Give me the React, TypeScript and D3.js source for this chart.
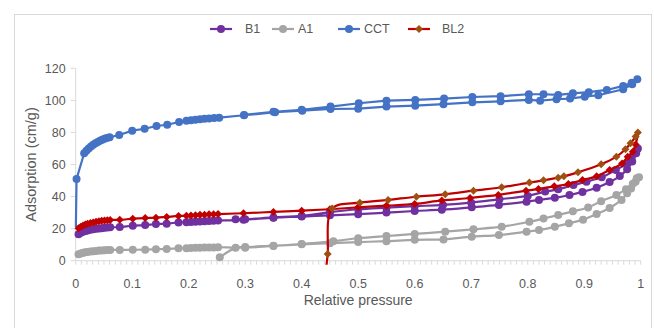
import * as d3 from "d3";

type Pt = [number, number];

// x = relative pressure, y = adsorbed amount
const X_TICKS = [0, 0.1, 0.2, 0.3, 0.4, 0.5, 0.6, 0.7, 0.8, 0.9, 1];
const Y_TICKS = [0, 20, 40, 60, 80, 100, 120];

const B1_ADS: Pt[] = [
  [0.005, 16.5], [0.009, 17.4], [0.013, 18.0], [0.017, 18.5], [0.021, 18.9], [0.026, 19.3],
  [0.031, 19.6], [0.036, 19.9], [0.041, 20.1], [0.046, 20.3], [0.051, 20.5], [0.056, 20.7],
  [0.061, 20.8], [0.078, 21.0], [0.101, 21.8], [0.123, 22.2], [0.142, 22.9], [0.161, 23.1],
  [0.182, 23.9], [0.196, 24.0], [0.204, 24.2], [0.212, 24.3], [0.22, 24.5], [0.228, 24.6],
  [0.236, 24.7], [0.244, 24.9], [0.252, 25.0], [0.297, 25.5], [0.35, 26.8], [0.4, 27.5],
  [0.45, 28.3], [0.5, 29.0], [0.55, 30.0], [0.6, 31.0], [0.648, 31.8], [0.701, 33.3],
  [0.749, 34.8], [0.798, 36.8], [0.82, 37.9], [0.848, 39.2], [0.874, 41.0], [0.897, 42.9],
  [0.922, 45.5], [0.945, 49.1], [0.963, 52.8], [0.976, 57.0], [0.985, 61.8], [0.992, 67.0],
];
const B1_DES: Pt[] = [
  [0.995, 70.0], [0.993, 69.1], [0.984, 64.5], [0.974, 60.4], [0.956, 56.6], [0.931, 52.0],
  [0.904, 49.3], [0.881, 47.2], [0.854, 44.5], [0.831, 43.1], [0.8, 40.4], [0.75, 38.3],
  [0.7, 36.2], [0.65, 34.8], [0.6, 34.0], [0.55, 33.1], [0.5, 32.1], [0.45, 30.3],
  [0.4, 27.9], [0.35, 27.0], [0.3, 25.9], [0.283, 25.8],
];

const A1_ADS: Pt[] = [
  [0.005, 4.0], [0.009, 4.5], [0.013, 4.9], [0.017, 5.2], [0.021, 5.5], [0.026, 5.7],
  [0.031, 5.9], [0.036, 6.1], [0.041, 6.3], [0.046, 6.4], [0.051, 6.5], [0.056, 6.6],
  [0.061, 6.7], [0.078, 6.7], [0.101, 6.8], [0.123, 6.9], [0.142, 7.1], [0.161, 7.3],
  [0.182, 7.7], [0.196, 7.8], [0.204, 7.9], [0.212, 8.0], [0.22, 8.1], [0.228, 8.2],
  [0.236, 8.3], [0.244, 8.3], [0.252, 8.4], [0.3, 8.1], [0.35, 9.2], [0.4, 10.2],
  [0.45, 10.9], [0.5, 11.6], [0.55, 12.2], [0.6, 13.0], [0.651, 13.3], [0.701, 15.0],
  [0.749, 16.0], [0.798, 18.1], [0.82, 19.1], [0.848, 21.2], [0.873, 23.3], [0.898, 25.6],
  [0.922, 29.1], [0.945, 32.9], [0.966, 37.9], [0.976, 42.0], [0.983, 45.1], [0.991, 49.3],
];
const A1_DES: Pt[] = [
  [0.997, 52.0], [0.993, 51.4], [0.986, 48.0], [0.974, 44.6], [0.957, 41.0], [0.93, 37.1],
  [0.907, 33.2], [0.88, 30.8], [0.854, 28.5], [0.828, 26.3], [0.803, 24.3], [0.754, 21.2],
  [0.704, 19.6], [0.654, 18.1], [0.6, 16.7], [0.55, 15.4], [0.5, 14.0], [0.456, 12.2],
  [0.4, 10.4], [0.35, 9.4], [0.3, 8.5], [0.283, 8.0], [0.255, 2.1],
];

const CCT_ADS: Pt[] = [
  [0.0003, 21], [0.0015, 51], [0.015, 67], [0.019, 68.5], [0.023, 70], [0.027, 71.3],
  [0.031, 72.3], [0.035, 73.2], [0.039, 74], [0.043, 74.8], [0.047, 75.5], [0.051, 76.1],
  [0.055, 76.6], [0.06, 77], [0.077, 78.4], [0.1, 81.1], [0.122, 82.3], [0.143, 84.0],
  [0.162, 84.8], [0.183, 86.5], [0.196, 87.3], [0.204, 87.6], [0.212, 87.9], [0.22, 88.2],
  [0.228, 88.5], [0.236, 88.7], [0.245, 89.0], [0.254, 89.2], [0.298, 90.7], [0.353, 92.6],
  [0.401, 93.6], [0.451, 94.6], [0.5, 94.8], [0.55, 96.1], [0.601, 96.7], [0.651, 97.6],
  [0.702, 98.8], [0.752, 99.4], [0.802, 100.3], [0.822, 99.8], [0.851, 100.7], [0.875, 101.1],
  [0.901, 102.3], [0.925, 103.2], [0.969, 106.9], [0.985, 110.0],
];
const CCT_DES: Pt[] = [
  [0.994, 113.2], [0.984, 111.0], [0.969, 109.0], [0.94, 106.5], [0.908, 105.1], [0.88, 104.4],
  [0.854, 103.4], [0.828, 103.8], [0.802, 103.8], [0.752, 102.6], [0.702, 102.1], [0.652, 101.1],
  [0.601, 100.3], [0.55, 99.8], [0.501, 98.2], [0.451, 96.1], [0.4, 94.1], [0.35, 92.9],
  [0.298, 90.9],
];

const BL2_ADS: Pt[] = [
  [0.005, 20.2], [0.009, 21.2], [0.013, 22.0], [0.017, 22.6], [0.021, 23.1], [0.026, 23.5],
  [0.031, 23.9], [0.036, 24.3], [0.041, 24.6], [0.046, 24.9], [0.051, 25.1], [0.056, 25.3],
  [0.061, 25.4], [0.078, 25.5], [0.101, 26.2], [0.123, 26.6], [0.142, 26.8], [0.161, 27.3],
  [0.182, 27.9], [0.196, 28.0], [0.204, 28.2], [0.212, 28.4], [0.22, 28.6], [0.228, 28.7],
  [0.236, 28.9], [0.244, 29.0], [0.252, 29.1], [0.297, 29.6], [0.35, 30.4], [0.4, 31.2],
  [0.45, 32.1], [0.5, 33.3], [0.55, 34.3], [0.6, 35.4], [0.648, 37.6], [0.698, 39.1],
  [0.748, 41.0], [0.797, 43.7], [0.819, 44.7], [0.847, 46.4], [0.872, 47.8], [0.897, 50.3],
  [0.922, 52.6], [0.945, 56.6], [0.967, 60.7], [0.977, 64.9], [0.986, 68.0], [0.991, 72.5],
];
const BL2_DES: Pt[] = [
  [0.995, 79.9], [0.991, 77.4], [0.982, 73.2], [0.973, 69.5], [0.957, 64.9], [0.93, 60.1],
  [0.889, 55.1], [0.864, 52.6], [0.854, 51.8], [0.828, 50.1], [0.803, 48.7], [0.754, 45.8],
  [0.704, 43.7], [0.654, 41.4], [0.603, 39.9], [0.553, 37.9], [0.503, 36.2], [0.454, 32.6],
  [0.446, 4.2], [0.443, -6],
];

const SERIES = [
  { name: "B1", color: "#7030A0", adsMark: "#7030A0", desMark: "#7030A0", shape: "circle", smooth: true, skipFirst: false, ads: B1_ADS, des: B1_DES },
  { name: "A1", color: "#A5A5A5", adsMark: "#A5A5A5", desMark: "#A5A5A5", shape: "circle", smooth: true, skipFirst: false, ads: A1_ADS, des: A1_DES },
  { name: "CCT", color: "#4472C4", adsMark: "#4472C4", desMark: "#4472C4", shape: "circle", smooth: false, skipFirst: true, ads: CCT_ADS, des: CCT_DES },
  { name: "BL2", color: "#C00000", adsMark: "#C00000", desMark: "#A04F12", shape: "diamond", smooth: true, skipFirst: false, ads: BL2_ADS, des: BL2_DES },
];

const W = 654;
const H = 328;
const left = 75.7, right = 640.7, top = 68.3, bottom = 260.7;
const FONT = "'Liberation Sans', Arial, sans-serif";
const TXT = "#595959";
const AXIS = "#D9D9D9";

const diamond = d3.symbol(d3.symbolSquare, 32)()!;

function Marker({ x, y, color, shape }: { x: number; y: number; color: string; shape: string }) {
  if (shape === "diamond")
    return <path d={diamond} transform={`translate(${x},${y}) rotate(45)`} fill={color} />;
  return <circle cx={x} cy={y} r={4} fill={color} />;
}

export default function App() {
  const x = d3.scaleLinear().domain([0, 1]).range([left, right]);
  const y = d3.scaleLinear().domain([0, 120]).range([bottom, top]);
  const smoothLine = d3.line<Pt>().x(d => x(d[0])).y(d => y(d[1])).curve(d3.curveCatmullRom.alpha(0.5));
  const straightLine = d3.line<Pt>().x(d => x(d[0])).y(d => y(d[1]));
  const minor = d3.range(0, 101).map(i => i / 100);

  const legendItems = [
    { lx: 210, tx: 245 },
    { lx: 272, tx: 298 },
    { lx: 338, tx: 364 },
    { lx: 408, tx: 442 },
  ];

  return (
    <div style={{ position: "absolute", left: 0, top: 0 }}>
      <svg width={W} height={H} style={{ display: "block", background: "#fff" }}>
        <defs>
          <clipPath id="plot">
            <rect x={left - 6} y={top - 8} width={right - left + 12} height={bottom - top + 12} />
          </clipPath>
        </defs>
        <rect x={14.5} y={14.5} width={637} height={330} fill="none" stroke={AXIS} />

        {/* axes */}
        <line x1={left} x2={left} y1={y(120)} y2={bottom} stroke={AXIS} />
        <line x1={left} x2={right} y1={bottom} y2={bottom} stroke={AXIS} />
        {Y_TICKS.map(t => (
          <g key={t}>
            <line x1={left - 5} x2={left} y1={y(t)} y2={y(t)} stroke={AXIS} />
            <text x={left - 10} y={y(t)} dy="0.35em" textAnchor="end" fontSize={12.5} fill={TXT} fontFamily={FONT}>{t}</text>
          </g>
        ))}
        {minor.map(t => (
          <line key={t} x1={x(t)} x2={x(t)} y1={bottom} y2={bottom + 4} stroke={AXIS} />
        ))}
        {X_TICKS.map(t => (
          <text key={t} x={x(t)} y={284} dy="0.35em" textAnchor="middle" fontSize={12.5} fill={TXT} fontFamily={FONT}>{t}</text>
        ))}
        <text x={(left + right) / 2} y={300} dy="0.35em" textAnchor="middle" fontSize={14} fill={TXT} fontFamily={FONT}>Relative pressure</text>
        <text transform={`translate(31,${(top + bottom) / 2}) rotate(-90)`} dy="0.35em" textAnchor="middle" fontSize={14.5} fill={TXT} fontFamily={FONT}>Adsorption (cm/g)</text>

        {/* series */}
        <g clipPath="url(#plot)">
          {SERIES.map(s => (
            <g key={s.name}>
              <path d={(s.smooth ? smoothLine : straightLine)([...s.ads, ...s.des]) ?? ""} fill="none" stroke={s.color} strokeWidth={2.2} />
              {s.ads.map((d, i) => (s.skipFirst && i === 0 ? null :
                <Marker key={"a" + i} x={x(d[0])} y={y(d[1])} color={s.adsMark} shape={s.shape} />
              ))}
              {s.des.map((d, i) => (
                <Marker key={"d" + i} x={x(d[0])} y={y(d[1])} color={s.desMark} shape={s.shape} />
              ))}
            </g>
          ))}
        </g>

        {/* legend */}
        {SERIES.map((s, i) => (
          <g key={s.name}>
            <line x1={legendItems[i].lx} x2={legendItems[i].lx + 22} y1={29} y2={29} stroke={s.color} strokeWidth={2.2} />
            <Marker x={legendItems[i].lx + 11} y={29} color={s.desMark} shape={s.shape} />
            <text x={legendItems[i].tx} y={29} dy="0.35em" fontSize={12.5} fill={TXT} fontFamily={FONT}>{s.name}</text>
          </g>
        ))}
      </svg>
    </div>
  );
}
